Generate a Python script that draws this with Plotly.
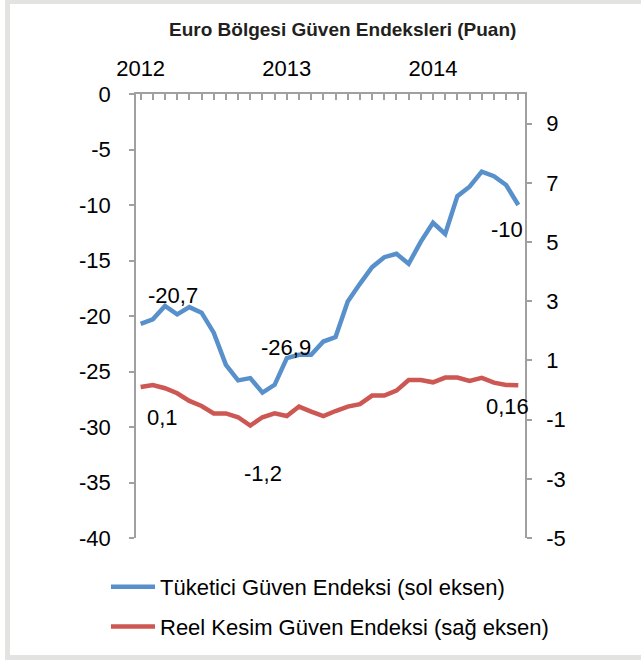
import plotly.graph_objects as go

# ---- data ----
months = ["2012-01","2012-02","2012-03","2012-04","2012-05","2012-06","2012-07","2012-08",
          "2012-09","2012-10","2012-11","2012-12","2013-01","2013-02","2013-03","2013-04",
          "2013-05","2013-06","2013-07","2013-08","2013-09","2013-10","2013-11","2013-12",
          "2014-01","2014-02","2014-03","2014-04","2014-05","2014-06","2014-07","2014-08"]
consumer = [-20.7, -20.3, -19.1, -19.85, -19.2, -19.7, -21.5, -24.4, -25.8, -25.6, -26.9, -26.2,
            -23.8, -23.5, -23.5, -22.3, -21.9, -18.7, -17.1, -15.6, -14.7, -14.4, -15.3, -13.3,
            -11.6, -12.6, -9.2, -8.35, -7.0, -7.4, -8.2, -10.0]
industry = [0.1, 0.17, 0.06, -0.11, -0.37, -0.54, -0.79, -0.79, -0.92, -1.2, -0.92, -0.79,
            -0.88, -0.56, -0.73, -0.88, -0.71, -0.56, -0.48, -0.19, -0.19, -0.02, 0.34, 0.34,
            0.26, 0.42, 0.42, 0.31, 0.41, 0.25, 0.17, 0.16]
year_labels = ["2012", "2013", "2014"]
year_idx = [0, 12, 24]
left_ticks = [0, -5, -10, -15, -20, -25, -30, -35, -40]
left_text = ["0", "-5", "-10", "-15", "-20", "-25", "-30", "-35", "-40"]
right_ticks = [9, 7, 5, 3, 1, -1, -3, -5]
right_text = ["9", "7", "5", "3", "1", "-1", "-3", "-5"]

name_c = "Tüketici Güven Endeksi (sol eksen)"
name_i = "Reel Kesim Güven Endeksi (sağ eksen)"

x = list(range(len(months)))

BLUE = "#5790CB"
RED = "#CD5753"
AX = "#A0A0A0"
FONT = "Liberation Sans, Arial, sans-serif"

# plot area in pixels
W, H = 641, 660
L, R, T, B = 136, 525, 94, 538

def px(xp):
    return (xp - L) / (R - L)

def py(yp):
    return (B - yp) / (B - T)

fig = go.Figure()
fig.add_trace(go.Scatter(x=x, y=consumer, mode="lines", name=name_c,
                         line=dict(color=BLUE, width=4.5), legendgroup="a"))
fig.add_trace(go.Scatter(x=x, y=industry, mode="lines", name=name_i, yaxis="y2",
                         line=dict(color=RED, width=4.5), legendgroup="b"))

lab_font = dict(family=FONT, size=22, color="#000")
labels = [
    (0, consumer[0], "y", "-20,7", 32, 28),
    (10, consumer[10], "y", "-26,9", 24, 45),
    (31, consumer[31], "y", "-10", -11, -24),
    (0, industry[0], "y2", "0,1", 22, -30),
    (9, industry[9], "y2", "-1,2", 13, -48),
    (31, industry[31], "y2", "0,16", -11, -21),
]
for xi, yv, yr, txt, xs, ys in labels:
    fig.add_annotation(x=xi, y=yv, xref="x", yref=yr, text=txt, showarrow=False,
                       xanchor="center", yanchor="middle",
                       xshift=xs, yshift=ys, font=lab_font)

# title
fig.add_annotation(x=px(342), y=py(30), xref="paper", yref="paper",
                   xanchor="center", yanchor="middle",
                   text="<b>Euro Bölgesi Güven Endeksleri (Puan)</b>", showarrow=False,
                   font=dict(family=FONT, size=19, color="#231F20"))

# grey frame
fig.add_shape(type="rect", xref="paper", yref="paper", x0=px(5), x1=px(700), y0=py(0), y1=py(660),
              fillcolor="#E3E3E1", line=dict(width=0), layer="below")
fig.add_shape(type="rect", xref="paper", yref="paper", x0=px(10), x1=px(700), y0=py(4), y1=py(655),
              fillcolor="#FFFFFF", line=dict(width=0), layer="below")

fig.update_layout(
    width=W, height=H,
    margin=dict(l=L, r=W - R, t=T, b=H - B, pad=0, autoexpand=False),
    paper_bgcolor="#FFFFFF", plot_bgcolor="rgba(0,0,0,0)",
    font=dict(family=FONT, size=22, color="#000"),
    showlegend=True,
    legend=dict(x=px(106), y=py(566), xanchor="left", yanchor="top",
                font=dict(family=FONT, size=22, color="#000"),
                itemwidth=44, tracegroupgap=8, bgcolor="rgba(0,0,0,0)"),
    xaxis=dict(side="top", range=[-0.38, 31.55], tickmode="array", tickvals=year_idx,
               ticktext=year_labels, ticks="inside", ticklen=6, tickcolor=AX, tickwidth=1.5,
               showline=True, linecolor=AX, linewidth=1.5, showgrid=False, zeroline=False,
               ticklabelstandoff=7, automargin=False,
               minor=dict(ticks="inside", tick0=0, dtick=1, ticklen=6, tickcolor=AX,
                          tickwidth=1.5, showgrid=False)),
    yaxis=dict(range=[-40, 0], tickmode="array", tickvals=left_ticks, ticktext=left_text,
               ticks="outside", ticklen=5, tickcolor=AX, tickwidth=1.5,
               showline=True, linecolor=AX, linewidth=1.5, showgrid=False, zeroline=False,
               ticklabelstandoff=14, automargin=False),
    yaxis2=dict(range=[-5, 10], overlaying="y", side="right", tickmode="array",
                tickvals=right_ticks, ticktext=right_text, ticks="outside", ticklen=5,
                tickcolor=AX, tickwidth=1.5,
                showline=True, linecolor=AX, linewidth=1.5, showgrid=False, zeroline=False,
                ticklabelstandoff=10, automargin=False),
)

fig.write_html("out.html", config={"displayModeBar": False},
               post_script="document.body.style.margin='0';document.body.style.overflow='hidden';")
